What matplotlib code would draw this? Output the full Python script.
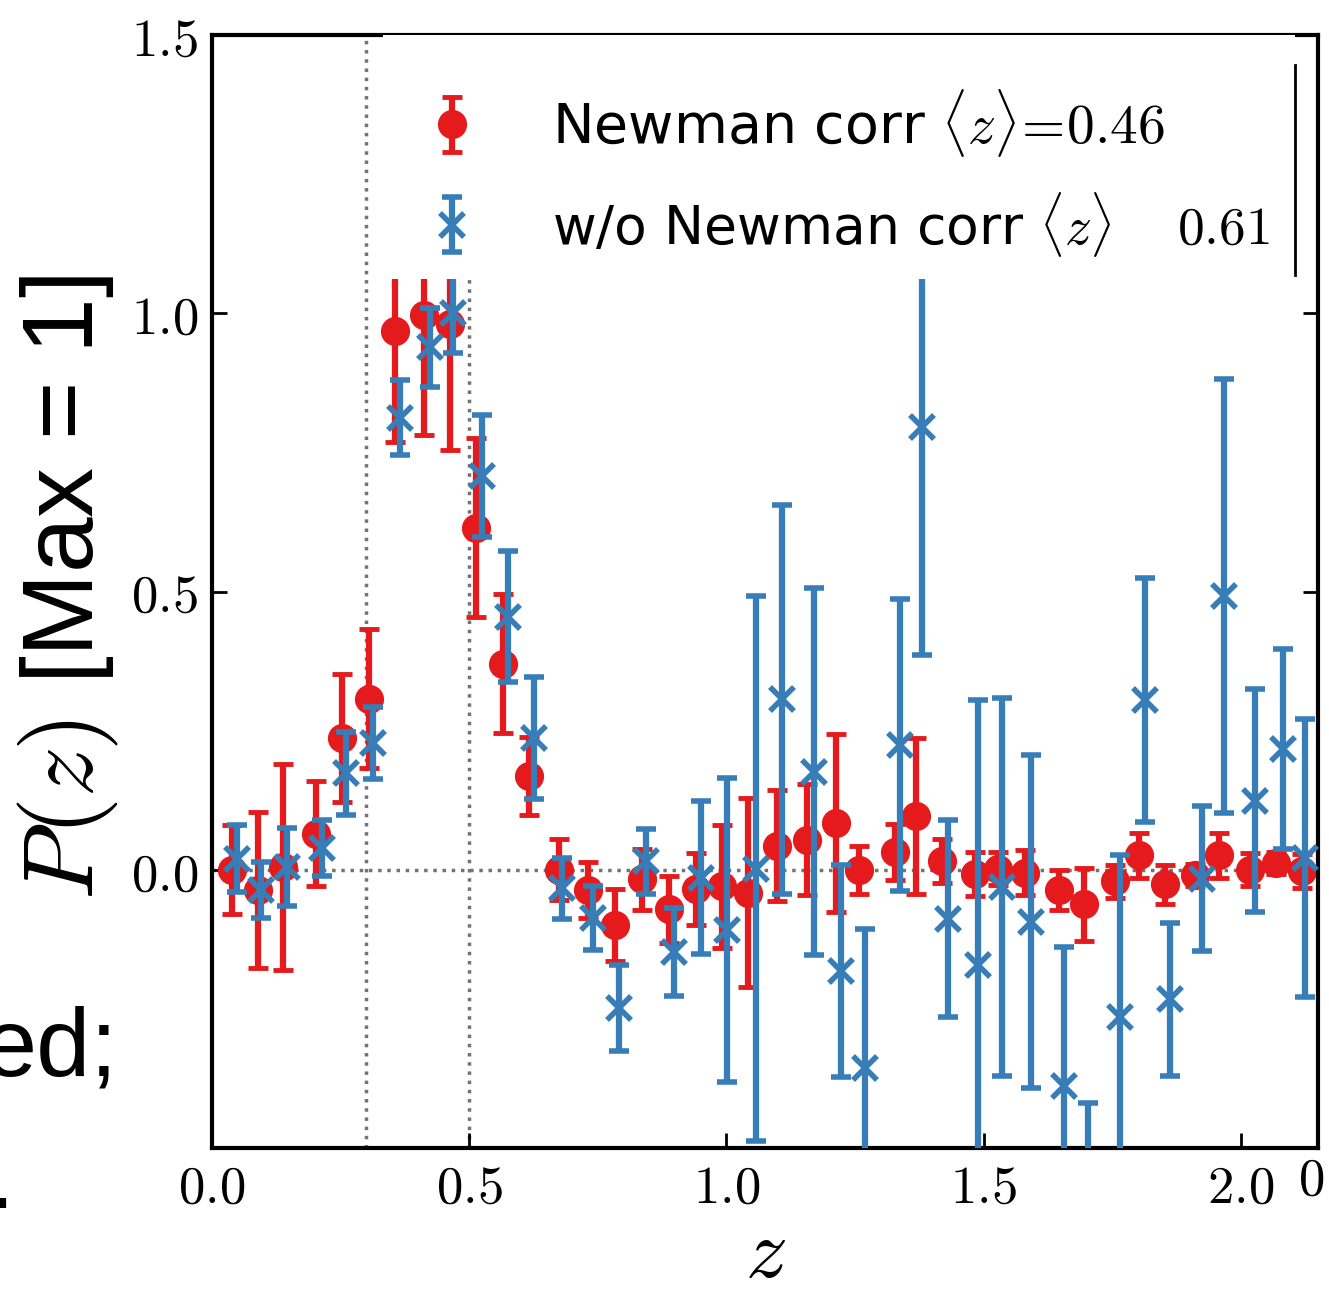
import matplotlib.pyplot as plt
import matplotlib as mpl
from matplotlib.patches import Rectangle
from matplotlib.lines import Line2D
from matplotlib.ticker import FuncFormatter

mpl.rcParams['mathtext.fontset'] = 'cm'

RED = '#e41a1c'
BLUE = '#377eb8'

# with Newman correction
z_corr = [0.038, 0.09, 0.138, 0.203, 0.252, 0.305, 0.355, 0.413, 0.463, 0.514,
          0.566, 0.617, 0.675, 0.731, 0.784, 0.835, 0.888, 0.94, 0.992, 1.042,
          1.098, 1.156, 1.213, 1.258, 1.327, 1.368, 1.42, 1.484, 1.527, 1.581,
          1.647, 1.695, 1.756, 1.802, 1.852, 1.91, 1.958, 2.017, 2.068, 2.118]
p_corr = [0.0, -0.036, 0.005, 0.065, 0.236, 0.307, 0.969, 0.997, 0.981, 0.615,
          0.37, 0.169, 0.0, -0.036, -0.099, -0.017, -0.071, -0.035, -0.03, -0.041,
          0.043, 0.054, 0.084, 0.0, 0.032, 0.097, 0.016, -0.008, 0.002, -0.005,
          -0.036, -0.062, -0.021, 0.026, -0.026, -0.01, 0.026, 0.0, 0.012, -0.002]
err_corr = [0.08, 0.14, 0.185, 0.095, 0.115, 0.125, 0.2, 0.215, 0.227, 0.16,
            0.125, 0.07, 0.055, 0.05, 0.065, 0.055, 0.06, 0.065, 0.11, 0.17,
            0.1, 0.1, 0.16, 0.043, 0.05, 0.14, 0.04, 0.04, 0.03, 0.04,
            0.036, 0.066, 0.03, 0.04, 0.035, 0.02, 0.04, 0.03, 0.02, 0.03]

# without Newman correction
z_raw = [0.048, 0.096, 0.146, 0.213, 0.261, 0.313, 0.365, 0.423, 0.468, 0.525,
         0.576, 0.625, 0.681, 0.74, 0.791, 0.844, 0.898, 0.95, 1.001, 1.057,
         1.108, 1.17, 1.223, 1.269, 1.337, 1.381, 1.43, 1.49, 1.536, 1.593,
         1.656, 1.703, 1.765, 1.813, 1.862, 1.924, 1.968, 2.027, 2.081, 2.124]
p_raw = [0.02, -0.036, 0.005, 0.039, 0.173, 0.228, 0.8125, 0.939, 1.0, 0.708,
         0.455, 0.237, -0.033, -0.087, -0.248, 0.015, -0.147, -0.014, -0.109, 0.002,
         0.306, 0.176, -0.182, -0.356, 0.224, 0.795, -0.088, -0.171, -0.031, -0.093,
         -0.388, -0.62, -0.264, 0.305, -0.233, -0.016, 0.492, 0.124, 0.217, 0.021]
err_raw = [0.06, 0.05, 0.07, 0.05, 0.075, 0.065, 0.068, 0.071, 0.072, 0.11,
           0.117, 0.11, 0.055, 0.057, 0.077, 0.058, 0.079, 0.138, 0.273, 0.49,
           0.35, 0.33, 0.19, 0.25, 0.263, 0.41, 0.177, 0.476, 0.34, 0.3,
           0.25, 0.2, 0.29, 0.22, 0.138, 0.13, 0.39, 0.2, 0.18, 0.25]

label_corr = r'Newman corr $\langle z\rangle\!=\!0.46$'
label_raw = r'w/o Newman corr $\langle z\rangle\quad\ 0.61$'

x_ticks = [0.0, 0.5, 1.0, 1.5, 2.0]
y_ticks = [0.0, 0.5, 1.0, 1.5]
z_marks = [0.3, 0.5]


def cm_label(v, pos):
    return r'$%.1f$' % v


fig = plt.figure(figsize=(13.29, 12.90), dpi=100)
ax = fig.add_axes([212/1329, 1-1148/1290, 1106/1329, 1113/1290])

ax.axhline(0.0, color='0.45', ls=':', lw=2.5, zorder=1)
for zm in z_marks:
    ax.axvline(zm, color='0.45', ls=':', lw=2.5, zorder=1)

ax.errorbar(z_corr, p_corr, yerr=err_corr, fmt='o', color=RED, mec=RED, ms=20,
            elinewidth=4.5, capsize=7, capthick=3.5, label=label_corr, zorder=2)
ax.errorbar(z_raw, p_raw, yerr=err_raw, fmt='x', color=BLUE, mec=BLUE, ms=17, mew=4,
            elinewidth=4.5, capsize=7, capthick=3.5, label=label_raw, zorder=3)

# white legend box, only its right edge is visible
ax.add_patch(Rectangle((0.155, 0.781), 0.824, 0.22, transform=ax.transAxes,
                       facecolor='white', edgecolor='none', zorder=4))
ax.add_line(Line2D([0.979, 0.979], [0.784, 0.973], transform=ax.transAxes,
                   color='black', lw=2, zorder=5))

leg = ax.legend(loc='center left', bbox_to_anchor=(0.2015, 0.876), frameon=False,
                fontsize=40, numpoints=1, handlelength=0.6, handletextpad=1.5,
                labelspacing=0.55, borderpad=0, borderaxespad=0)
leg.get_texts()[1].set_fontsize(38.5)
leg.set_zorder(6)

ax.set_xlim(0.0, 2.15)
ax.set_ylim(-0.5, 1.5)
ax.set_xticks(x_ticks)
ax.set_yticks(y_ticks)
ax.xaxis.set_major_formatter(FuncFormatter(cm_label))
ax.yaxis.set_major_formatter(FuncFormatter(cm_label))
ax.tick_params(direction='in', length=11, width=2, labelsize=38, pad=10,
               top=True, right=True)
for sp in ax.spines.values():
    sp.set_linewidth(3)

ax.set_xlabel(r'$z$', fontsize=60)
ax.xaxis.set_label_coords(0.5, -0.058)
ax.set_ylabel(r'$P(z)$ [Max = 1]', fontsize=72, family='Liberation Sans')
ax.yaxis.set_label_coords(-0.083, 0.504)

# bits of neighbouring text cut by the crop
fig.text(1298/1329, 1-1180/1290, r'$0.0$', fontsize=38, ha='left', va='center')
fig.text(118/1329, 1-1075/1290, 'ed;', fontsize=70, family='Liberation Sans',
         ha='right', va='baseline')
fig.text(14/1329, 1-1208/1290, '.', fontsize=70, family='Liberation Sans',
         ha='right', va='baseline')

fig.savefig('out.png', dpi=100)
